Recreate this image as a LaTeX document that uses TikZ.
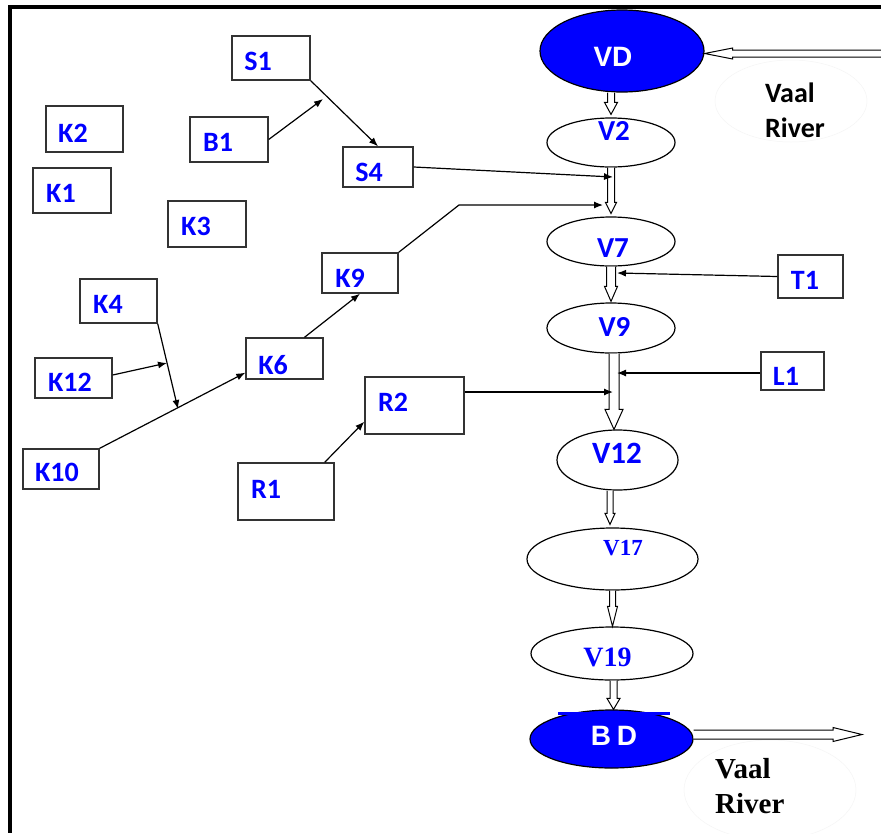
\documentclass[tikz,border=0pt]{standalone}
\usepackage{fontspec}
\setmainfont{Carlito}
\newfontfamily\arialf{Liberation Sans}
\newfontfamily\timesf{Liberation Serif}
\usetikzlibrary{shapes.geometric,arrows.meta,calc}

% hollow block arrow pointing down: start, tip, shaft half width, head half width, head length
\newcommand\hollowdown[5]{%
  \draw[blockarrow] let \p1=#1, \p2=#2 in
    (\x1-#3,\y1) -- (\x1-#3,\y2+#5) -- (\x1-#4,\y2+#5) -- (\x1,\y2)
    -- (\x1+#4,\y2+#5) -- (\x1+#3,\y2+#5) -- (\x1+#3,\y1);}
% hollow block arrow pointing right
\newcommand\hollowright[5]{%
  \draw[blockarrow] let \p1=#1, \p2=#2 in
    (\x1,\y1+#3) -- (\x2-#5,\y1+#3) -- (\x2-#5,\y1+#4) -- (\x2,\y1)
    -- (\x2-#5,\y1-#4) -- (\x2-#5,\y1-#3) -- (\x1,\y1-#3);}
% hollow block arrow pointing left
\newcommand\hollowleft[5]{%
  \draw[blockarrow] let \p1=#1, \p2=#2 in
    (\x1,\y1+#3) -- (\x2+#5,\y1+#3) -- (\x2+#5,\y1+#4) -- (\x2,\y1)
    -- (\x2+#5,\y1-#4) -- (\x2+#5,\y1-#3) -- (\x1,\y1-#3);}

\tikzset{
  box/.style={draw=black!80, line width=1.4pt, inner sep=0pt, fill=white},
  lbl/.style={text=blue, font=\fontsize{28}{30}\selectfont\bfseries, inner sep=0pt},
  ell/.style={ellipse, draw, line width=1.2pt, inner sep=0pt, fill=white},
  dam/.style={ellipse, draw, line width=1.2pt, inner sep=0pt, fill=blue},
  conn/.style={line width=1.2pt, -{Latex[length=9pt,width=7pt]}},
  blockarrow/.style={draw, line width=1pt, fill=white, line join=miter},
  river/.style={inner sep=0pt, align=left, anchor=north west},
  haze/.style={draw=black!4, line width=0.5pt}
}

\begin{document}
\begin{tikzpicture}[x=1pt,y=-1pt]
\useasboundingbox (0,0) rectangle (881,833);
\fill[white] (0,0) rectangle (881,833);

% frame on top and left
\fill[black] (8,5) rectangle (881,9);
\fill[black] (8,5) rectangle (12,833);

% faint outlines round the river names
\draw[haze] (791,101) ellipse [x radius=76, y radius=41];
\draw[haze] (770,790) ellipse [x radius=86, y radius=50];

% main stream reservoirs and stations
\node[dam, minimum width=164, minimum height=82] (VD) at (622,51) {};
\node[ell, minimum width=128, minimum height=49] (V2) at (611,142.5) {};
\node[ell, minimum width=128, minimum height=49] (V7) at (611,241.5) {};
\node[ell, minimum width=128, minimum height=50] (V9) at (611,328) {};
\node[ell, minimum width=121, minimum height=60] (V12) at (617.5,460) {};
\node[ell, minimum width=171, minimum height=62] (V17) at (612.5,559) {};
\node[ell, minimum width=162, minimum height=53] (V19) at (612,653.5) {};
\node[dam, minimum width=163, minimum height=58] (BD) at (611.5,739) {};
\fill[blue] (558,712) rectangle (670,715);

% flows along the river
\coordinate (inR) at (881,53.5);
\hollowleft{(inR)}{([yshift=-2.5pt]VD.east)}{3.5pt}{5.5pt}{28pt}
\hollowdown{(V2.north |- VD.south)}{([yshift=3pt]V2.north)}{3.5pt}{6.5pt}{12pt}
\hollowdown{(V2.south)}{([yshift=3pt]V7.north)}{3.5pt}{5.5pt}{11pt}
\hollowdown{(V7.south)}{([yshift=1pt]V9.north)}{4.5pt}{6.5pt}{15pt}
\hollowdown{([xshift=3pt]V9.south)}{(V12.north)}{5pt}{9pt}{20pt}
\hollowdown{([xshift=-7.5pt]V12.south)}{([yshift=3pt]V17.north)}{3pt}{5pt}{11pt}
\hollowdown{(V17.south)}{(V19.north)}{3pt}{5pt}{20pt}
\hollowdown{([xshift=1.5pt]V19.south)}{(BD.north)}{3.5pt}{6.5pt}{11pt}
\coordinate (outR) at (862,734.5);
\hollowright{([yshift=4.5pt]BD.east)}{(outR)}{4.5pt}{7pt}{29pt}

% node labels on the main stream
\node[inner sep=0pt, text=white, font=\arialf\bfseries\fontsize{28}{30}\selectfont] (VD-t) at (613,57) {VD};
\node[lbl, font=\fontsize{29}{30}\selectfont\bfseries] (V2-t) at (614,131) {V2};
\node[lbl, font=\fontsize{29}{30}\selectfont\bfseries] (V7-t) at (613,248) {V7};
\node[lbl, font=\fontsize{29}{30}\selectfont\bfseries] (V9-t) at (614.5,327) {V9};
\node[lbl, font=\fontsize{31}{32}\selectfont\bfseries] (V12-t) at (617,453) {V12};
\node[lbl, font=\timesf\bfseries\fontsize{23}{25}\selectfont] (V17-t) at (623,548) {V17};
\node[lbl, font=\timesf\bfseries\fontsize{28}{30}\selectfont] (V19-t) at (607.5,657) {V19};
\node[inner sep=0pt, text=white, font=\arialf\bfseries\fontsize{28}{30}\selectfont] (BD-t) at (614,735.5) {B\hspace{6pt}D};

% river names
\node[river, font=\bfseries\fontsize{28}{35}\selectfont] (vaal1) at (765,83) {Vaal\\River};
\node[river, font=\timesf\bfseries\fontsize{29}{35}\selectfont] (vaal2) at (715,758) {Vaal\\River};

% tributary boxes
\node[box, minimum width=78, minimum height=44] (S1) at (271,58) {};
\node[box, minimum width=77, minimum height=46] (K2) at (84.5,129) {};
\node[box, minimum width=78, minimum height=45] (K1) at (72,190.5) {};
\node[box, minimum width=78, minimum height=45] (B1) at (229,139.5) {};
\node[box, minimum width=78, minimum height=46] (K3) at (207,224) {};
\node[box, minimum width=70, minimum height=40] (S4) at (378,167) {};
\node[box, minimum width=77, minimum height=44] (K4) at (118.5,301) {};
\node[box, minimum width=77, minimum height=40] (K12) at (73.5,378) {};
\node[box, minimum width=76, minimum height=40] (K10) at (61,469) {};
\node[box, minimum width=77, minimum height=41] (K6) at (284.5,358.5) {};
\node[box, minimum width=76, minimum height=40] (K9) at (360,273) {};
\node[box, minimum width=99, minimum height=57] (R2) at (414.5,405.5) {};
\node[box, minimum width=96, minimum height=57] (R1) at (286,491.5) {};
\node[box, minimum width=65, minimum height=43] (T1) at (810.5,276.5) {};
\node[box, minimum width=63, minimum height=38] (L1) at (792.5,371) {};

\node[lbl] (S1-t) at (258,61) {S1};
\node[lbl] (K2-t) at (73,133) {K2};
\node[lbl] (K1-t) at (61,193) {K1};
\node[lbl] (B1-t) at (218,142) {B1};
\node[lbl] (K3-t) at (196,226) {K3};
\node[lbl] (S4-t) at (369,172) {S4};
\node[lbl] (K4-t) at (108,304) {K4};
\node[lbl] (K12-t) at (70,382) {K12};
\node[lbl] (K10-t) at (57,472) {K10};
\node[lbl] (K6-t) at (273,365) {K6};
\node[lbl] (K9-t) at (350,278) {K9};
\node[lbl] (R2-t) at (393,402) {R2};
\node[lbl] (R1-t) at (266,489) {R1};
\node[lbl] (T1-t) at (805,280) {T1};
\node[lbl] (L1-t) at (786,376) {L1};

% junction points
\coordinate (jB) at (323,99);
\coordinate (jS4) at (613,177);
\coordinate (bend9) at (459,205);
\coordinate (jK9) at (603,205);
\coordinate (jK) at (178,409);
\coordinate (j12) at (167,363);
\coordinate (jR) at (613,392);
\coordinate (jT) at (617,273);
\coordinate (jL) at (617,373);

% tributary connections
\draw[conn] (S1.south east) -- (S4.north);
\draw[conn] (B1.east) -- (jB);
\draw[conn] (S4.east) -- (jS4);
\draw[conn] (K9.north east) -- (bend9) -- (jK9);
\draw[conn] ([xshift=20pt]K6.north) -- (K9.south);
\draw[conn] (K4.south east) -- (jK);
\draw[conn] ([yshift=3pt]K12.east) -- (j12);
\draw[conn] (K10.north east) -- ([yshift=7pt]K6.south west);
\draw[conn] ([xshift=-10pt]R1.north east) -- ([yshift=13pt]R2.south west);
\draw[conn] ([yshift=13.5pt]R2.east) -- (jR);
\draw[conn] (T1.west) -- (jT);
\draw[conn] ([yshift=-2pt]L1.west) -- (jL);
\end{tikzpicture}
\end{document}
